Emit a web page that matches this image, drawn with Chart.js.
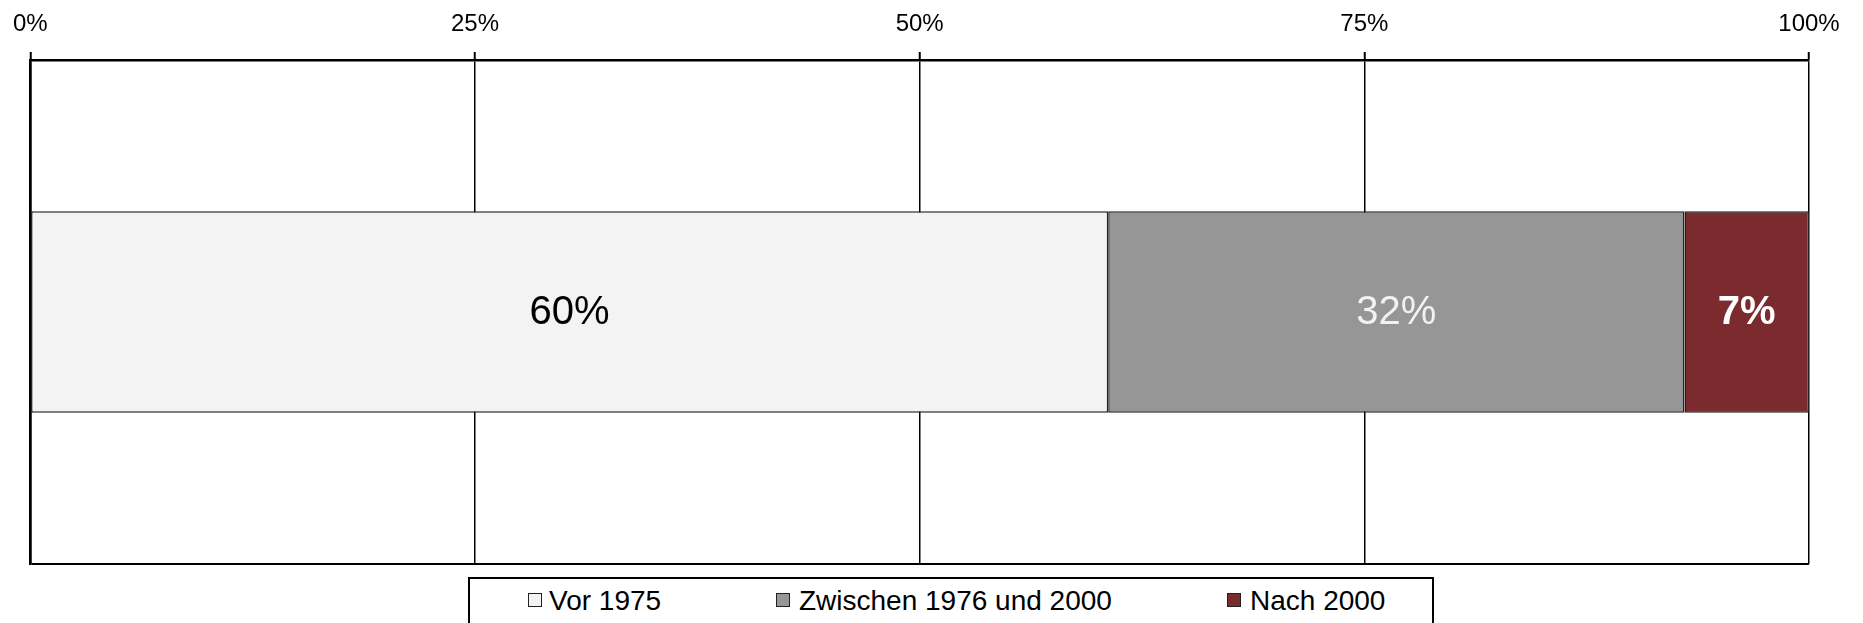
<!DOCTYPE html>
<html lang="de">
<head>
<meta charset="utf-8">
<title>Baujahr</title>
<script src="https://cdn.jsdelivr.net/npm/chart.js@4.4.1/dist/chart.umd.min.js"></script>
<style>
    body { margin: 0; background: #fff; overflow: hidden; }
    #wrap { position: relative; width: 1863px; height: 623px; }
    #legend {
        position: absolute; left: 468px; top: 577px; width: 966px; height: 60px;
        border: 2px solid #000; box-sizing: border-box; background: #fff;
        font-family: "Liberation Sans", Arial, sans-serif; font-size: 28px; color: #000;
    }
    #legend .box { position: absolute; top: 14px; width: 14px; height: 14px; border: 1px solid #222; box-sizing: border-box; }
    #legend .txt { position: absolute; top: 8px; line-height: 28px; white-space: nowrap; }
</style>
</head>
<body>
<div id="wrap">
    <canvas id="baujahr" width="1863" height="623"></canvas>
    <div id="legend"></div>
</div>
<script>
// data
const categories = [''];
const seriesNames = ['Vor 1975', 'Zwischen 1976 und 2000', 'Nach 2000'];
const vor1975 = [60.6];
const zwischen1976und2000 = [32.4];
const nach2000 = [7.0];
const valueLabels = ['60%', '32%', '7%'];
const tickValues = [0, 25, 50, 75, 100];

// styles
const fillColors = ['#f3f3f3', '#969696', '#7b2a2d'];
const labelColors = ['#000000', '#f2f2f2', '#ffffff'];
const labelWeights = ['normal', 'normal', 'bold'];
const fontFamily = '"Liberation Sans", Arial, sans-serif';

document.addEventListener("DOMContentLoaded", function () {
    const ctx = document.getElementById('baujahr').getContext('2d');

    // draws the percentage in the middle of each segment
    const segmentLabels = {
        id: 'segmentLabels',
        afterDatasetsDraw(chart) {
            const c = chart.ctx;
            chart.data.datasets.forEach((ds, i) => {
                const meta = chart.getDatasetMeta(i);
                meta.data.forEach((bar) => {
                    const p = bar.getCenterPoint();
                    c.save();
                    c.font = labelWeights[i] + ' 40px ' + fontFamily;
                    c.fillStyle = labelColors[i];
                    c.textAlign = 'center';
                    c.textBaseline = 'middle';
                    c.fillText(valueLabels[i], p.x, p.y + 1);
                    c.restore();
                });
            });
        }
    };

    const seriesValues = [vor1975, zwischen1976und2000, nach2000];

    new Chart(ctx, {
        type: 'bar',
        data: {
            labels: categories,
            datasets: seriesValues.map((vals, i) => ({
                label: seriesNames[i],
                data: vals,
                backgroundColor: fillColors[i],
                borderColor: '#222',
                borderWidth: 1.5,
                borderSkipped: false,
                categoryPercentage: 1,
                barPercentage: 0.4
            }))
        },
        options: {
            indexAxis: 'y',
            responsive: false,
            animation: false,
            devicePixelRatio: 1,
            layout: { padding: { left: 27, right: 54, top: 0, bottom: 59 } },
            plugins: {
                legend: { display: false },
                tooltip: { enabled: false }
            },
            scales: {
                x: {
                    type: 'linear',
                    position: 'top',
                    stacked: true,
                    min: 0,
                    max: 100,
                    afterBuildTicks: (scale) => {
                        scale.ticks = tickValues.map(v => ({ value: v }));
                    },
                    afterFit: (scale) => { scale.height = 60; },
                    ticks: {
                        color: '#000',
                        padding: 13,
                        font: { family: fontFamily, size: 24 },
                        callback: (v) => v + '%'
                    },
                    grid: {
                        color: '#000',
                        lineWidth: 1.5,
                        tickLength: 8,
                        tickColor: '#000',
                        tickWidth: 2
                    },
                    border: { display: true, color: '#000', width: 2.5 }
                },
                y: {
                    stacked: true,
                    ticks: { display: false },
                    grid: {
                        color: '#000',
                        lineWidth: 2,
                        drawTicks: false,
                        offset: true
                    },
                    border: { display: true, color: '#000', width: 2.5 }
                }
            }
        },
        plugins: [segmentLabels]
    });

    // legend with fixed positions like the original
    const legend = document.getElementById('legend');
    const boxLeft = [58, 306, 757];
    const textLeft = [79, 329, 780];
    seriesNames.forEach((name, i) => {
        const box = document.createElement('div');
        box.className = 'box';
        box.style.left = boxLeft[i] + 'px';
        box.style.background = fillColors[i];
        legend.appendChild(box);
        const txt = document.createElement('span');
        txt.className = 'txt';
        txt.style.left = textLeft[i] + 'px';
        txt.textContent = name;
        legend.appendChild(txt);
    });
});
</script>
</body>
</html>
